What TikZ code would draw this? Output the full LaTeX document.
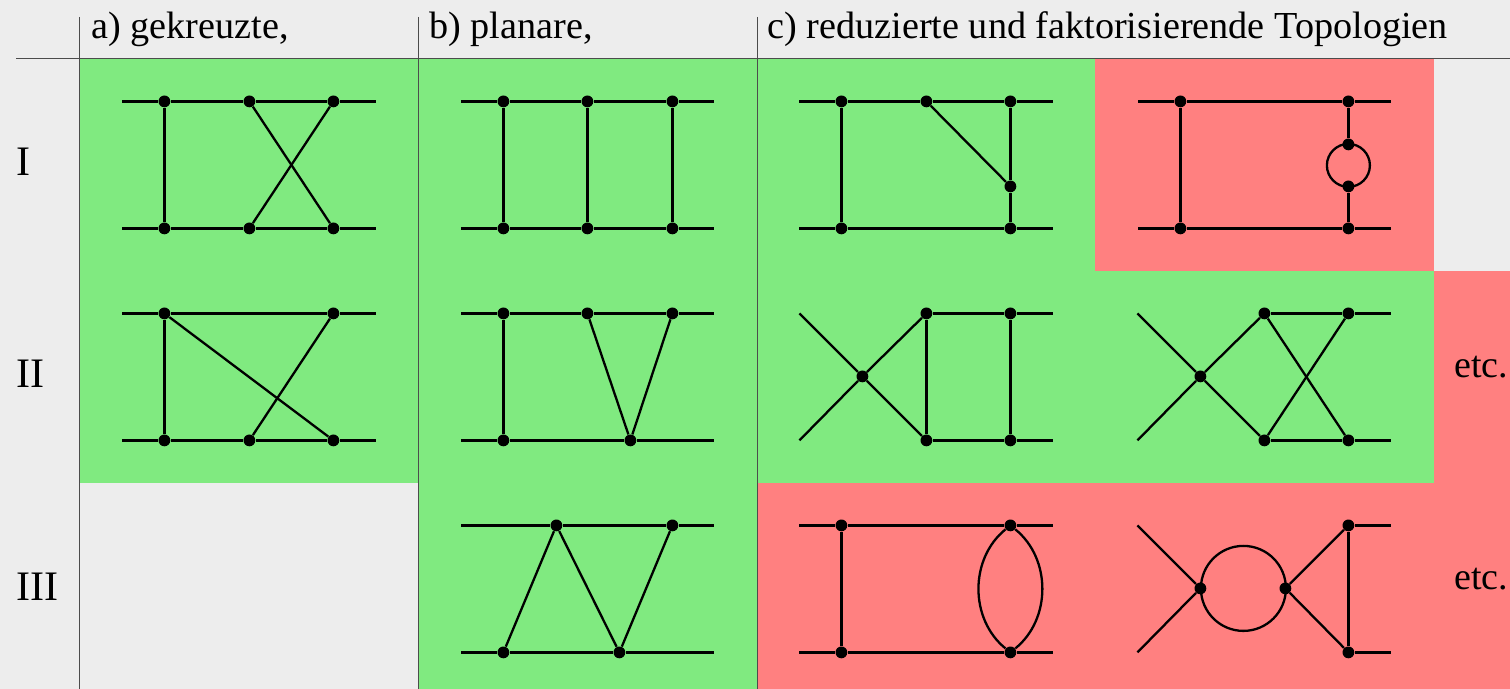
\documentclass[tikz,border=0pt]{standalone}
\usepackage{fontspec}
\setmainfont{Liberation Serif}
\definecolor{tabgrey}{HTML}{EDEDED}
\definecolor{okgreen}{HTML}{80EA80}
\definecolor{badred}{HTML}{FF8080}
\begin{document}
\begin{tikzpicture}[
  x=0.5pt, y=-0.5pt,
  rule/.style={black!70, line width=0.5pt},
  prop/.style={black, line width=1.15pt},
  vtx/.style={circle, fill=black, inner sep=0pt, minimum size=5.9pt},
  bubble/.style={circle, draw=black, line width=1.15pt, inner sep=0pt},
  headlabel/.style={anchor=base west, inner sep=0pt, font=\fontsize{19.1}{24}\selectfont},
  rowlabel/.style={anchor=base west, inner sep=0pt, font=\fontsize{21}{25}\selectfont},
  etclabel/.style={anchor=base west, inner sep=0pt, font=\fontsize{19}{23}\selectfont},
]
\useasboundingbox (0,0) rectangle (1510,689);
\fill[tabgrey] (0,0) rectangle (1510,689);
% Coloured fields
\fill[okgreen] (79,59) rectangle (418,483);
\fill[okgreen] (418,59) rectangle (757,689);
\fill[okgreen] (757,59) rectangle (1095,271);
\fill[okgreen] (757,271) rectangle (1434,483);
\fill[badred] (1095,59) rectangle (1434,271);
\fill[badred] (1434,271) rectangle (1510,689);
\fill[badred] (757,483) rectangle (1434,689);
% Table rules
\draw[rule] (16,59) -- (1510,59);
\foreach \x in {79.5,418.5,757.3} {
  \draw[rule] (\x,17) -- (\x,689);
}
% Table labels
\node[headlabel] (heada) at (91,39) {a) gekreuzte,};
\node[headlabel] (headb) at (429,39) {b) planare,};
\node[headlabel] (headc) at (767,39) {c) reduzierte und faktorisierende Topologien};
\node[rowlabel] (rowi) at (16,176) {I};
\node[rowlabel] (rowii) at (16,388) {II};
\node[rowlabel] (rowiii) at (16,600) {III};
\node[etclabel] (etcii) at (1454,378) {etc.};
\node[etclabel] (etciii) at (1454,589) {etc.};

\begin{scope}[shift={(0.4,0.4)}]
% Free line ends
\foreach \n/\x/\y in {%
  aIl/122/101, aIr/376/101, aIL/122/228, aIR/376/228,
  aIIl/122/313, aIIr/376/313, aIIL/122/440, aIIR/376/440,
  bIl/461/101, bIr/714/101, bIL/461/228, bIR/714/228,
  bIIl/461/313, bIIr/714/313, bIIL/461/440, bIIR/714/440,
  bIIIl/461/525, bIIIr/714/525, bIIIL/461/652, bIIIR/714/652,
  cIl/799/101, cIr/1053/101, cIL/799/228, cIR/1053/228,
  cIIl/799/313, cIIr/1053/313, cIIL/799/440, cIIR/1053/440,
  cIIIl/799/525, cIIIr/1053/525, cIIIL/799/652, cIIIR/1053/652,
  dIl/1138/101, dIr/1391/101, dIL/1138/228, dIR/1391/228,
  dIIl/1137/313, dIIr/1391/313, dIIL/1137/440, dIIR/1391/440,
  dIIIl/1137/525, dIIIr/1391/525, dIIIL/1137/652, dIIIR/1391/652%
} {
  \coordinate (\n) at (\x,\y);
}
% Vertices
\foreach \n/\x/\y in {%
  aIa/164/101, aIb/249/101, aIc/333/101, aIA/164/228, aIB/249/228, aIC/333/228,
  aIIa/164/313, aIIc/333/313, aIIA/164/440, aIIB/249/440, aIIC/333/440,
  bIa/503/101, bIb/587/101, bIc/672/101, bIA/503/228, bIB/587/228, bIC/672/228,
  bIIa/503/313, bIIb/587/313, bIIc/672/313, bIIA/503/440, bIIB/630/440,
  bIIIa/556/525, bIIIc/672/525, bIIIA/503/652, bIIIB/619/652,
  cIa/841/101, cIb/926/101, cIc/1010/101, cIA/841/228, cIC/1010/228, cIm/1010/186,
  cIIv/862/376, cIIb/926/313, cIIc/1010/313, cIIB/926/440, cIIC/1010/440,
  cIIIa/841/525, cIIIc/1010/525, cIIIA/841/652, cIIIC/1010/652,
  dIa/1180/101, dIc/1348/101, dIA/1180/228, dIC/1348/228, dIm/1348/144, dIn/1348/186,
  dIIv/1200/376, dIIb/1264/313, dIIc/1348/313, dIIB/1264/440, dIIC/1348/440,
  dIIIv/1200/588, dIIIw/1285/588, dIIIc/1348/525, dIIIC/1348/652%
} {
  \node[vtx] (\n) at (\x,\y) {};
}
\node[bubble, minimum size=21.5pt] (dIloop) at (1348,165) {};
\node[bubble, minimum size=42.5pt] (dIIIloop) at (1243,588) {};
\end{scope}
% Propagators
\foreach \s/\t in {%
  aIl/aIa, aIa/aIb, aIb/aIc, aIc/aIr, aIL/aIA, aIA/aIB, aIB/aIC, aIC/aIR,
  aIa/aIA, aIb/aIC, aIc/aIB,
  aIIl/aIIa, aIIa/aIIc, aIIc/aIIr, aIIL/aIIA, aIIA/aIIB, aIIB/aIIC, aIIC/aIIR,
  aIIa/aIIA, aIIa/aIIC, aIIc/aIIB,
  bIl/bIa, bIa/bIb, bIb/bIc, bIc/bIr, bIL/bIA, bIA/bIB, bIB/bIC, bIC/bIR,
  bIa/bIA, bIb/bIB, bIc/bIC,
  bIIl/bIIa, bIIa/bIIb, bIIb/bIIc, bIIc/bIIr, bIIL/bIIA, bIIA/bIIB, bIIB/bIIR,
  bIIa/bIIA, bIIb/bIIB, bIIc/bIIB,
  bIIIl/bIIIa, bIIIa/bIIIc, bIIIc/bIIIr, bIIIL/bIIIA, bIIIA/bIIIB, bIIIB/bIIIR,
  bIIIa/bIIIA, bIIIa/bIIIB, bIIIc/bIIIB,
  cIl/cIa, cIa/cIb, cIb/cIc, cIc/cIr, cIL/cIA, cIA/cIC, cIC/cIR,
  cIa/cIA, cIb/cIm, cIc/cIm, cIm/cIC,
  cIIl/cIIv, cIIL/cIIv, cIIv/cIIb, cIIv/cIIB, cIIb/cIIc, cIIc/cIIr, cIIB/cIIC, cIIC/cIIR,
  cIIb/cIIB, cIIc/cIIC,
  cIIIl/cIIIa, cIIIa/cIIIc, cIIIc/cIIIr, cIIIL/cIIIA, cIIIA/cIIIC, cIIIC/cIIIR,
  cIIIa/cIIIA,
  dIl/dIa, dIa/dIc, dIc/dIr, dIL/dIA, dIA/dIC, dIC/dIR,
  dIa/dIA, dIc/dIm, dIn/dIC,
  dIIl/dIIv, dIIL/dIIv, dIIv/dIIb, dIIv/dIIB, dIIb/dIIc, dIIc/dIIr, dIIB/dIIC, dIIC/dIIR,
  dIIb/dIIC, dIIc/dIIB,
  dIIIl/dIIIv, dIIIL/dIIIv, dIIIw/dIIIc, dIIIw/dIIIC, dIIIc/dIIIr, dIIIC/dIIIR,
  dIIIc/dIIIC%
} {
  \draw[prop] (\s) -- (\t);
}
% Lens of the third row
\draw[prop] (cIIIc) to[bend left=51] (cIIIC);
\draw[prop] (cIIIc) to[bend right=51] (cIIIC);
\end{tikzpicture}
\end{document}
